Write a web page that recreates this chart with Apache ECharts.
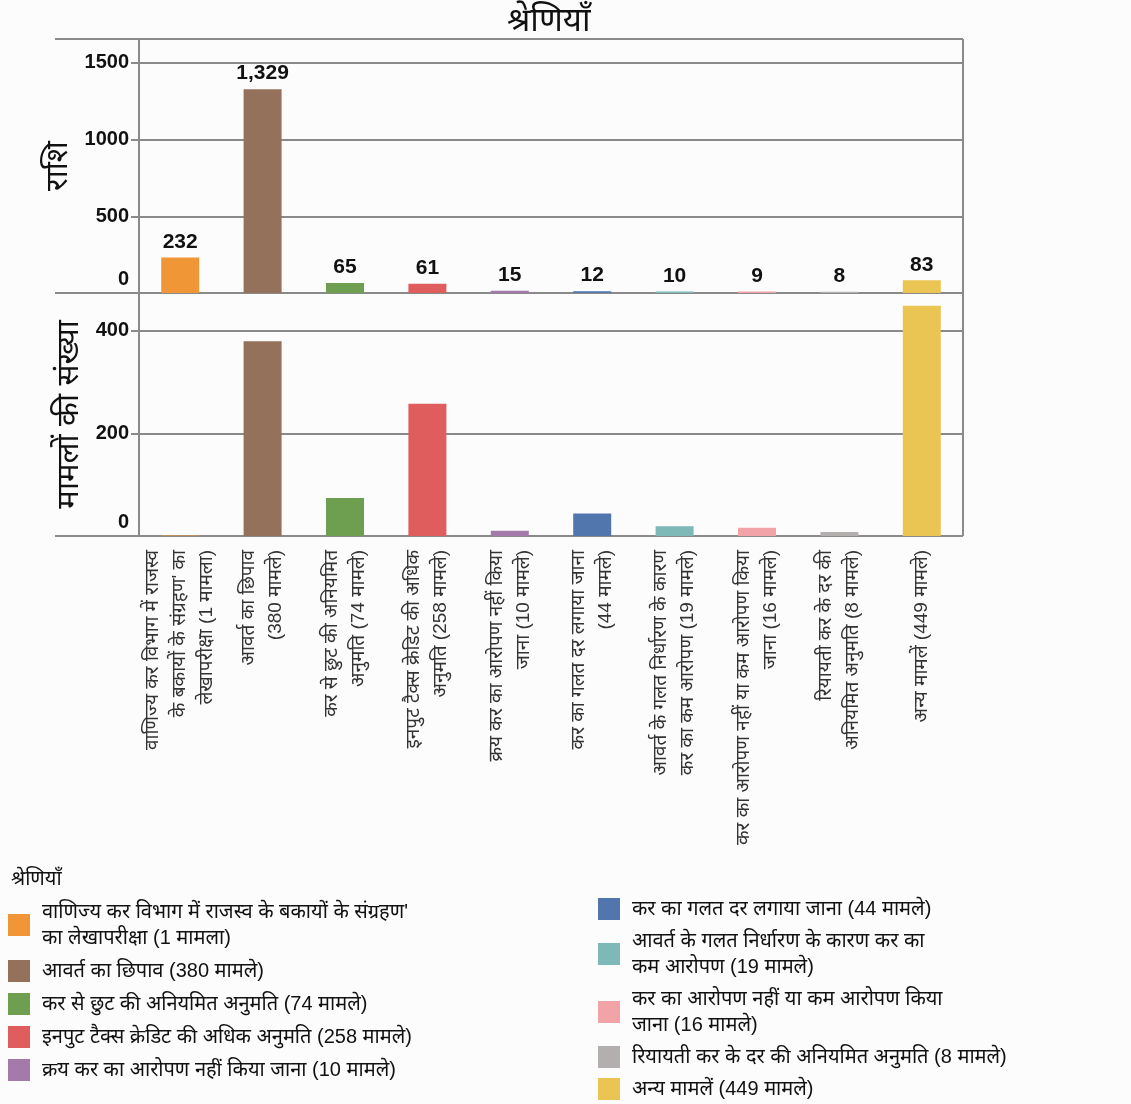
<!DOCTYPE html>
<html lang="hi">
<head>
<meta charset="UTF-8">
<script src="https://cdn.jsdelivr.net/npm/echarts@6/dist/echarts.min.js"></script>
<title>श्रेणियाँ</title>
</head>
<body style="margin:0;background:#fcfcfc;">
<div id="main" style="width:1131px;height:1104px;"></div>
<script>
// categories (legend order)
var categories = [
    'वाणिज्य कर विभाग में राजस्व के बकायों के संग्रहण\' का लेखापरीक्षा (1 मामला)',
    'आवर्त का छिपाव (380 मामले)',
    'कर से छुट की अनियमित अनुमति (74 मामले)',
    'इनपुट टैक्स क्रेडिट की अधिक अनुमति (258 मामले)',
    'क्रय कर का आरोपण नहीं किया जाना (10 मामले)',
    'कर का गलत दर लगाया जाना (44 मामले)',
    'आवर्त के गलत निर्धारण के कारण कर का कम आरोपण (19 मामले)',
    'कर का आरोपण नहीं या कम आरोपण किया जाना (16 मामले)',
    'रियायती कर के दर की अनियमित अनुमति (8 मामले)',
    'अन्य मामलें (449 मामले)'
];
// wrapped text for the rotated axis labels
var axisNames = [
    'वाणिज्य कर विभाग में राजस्व\nके बकायों के संग्रहण\' का\nलेखापरीक्षा (1 मामला)',
    'आवर्त का छिपाव\n(380 मामले)',
    'कर से छुट की अनियमित\nअनुमति (74 मामले)',
    'इनपुट टैक्स क्रेडिट की अधिक\nअनुमति (258 मामले)',
    'क्रय कर का आरोपण नहीं किया\nजाना (10 मामले)',
    'कर का गलत दर लगाया जाना\n(44 मामले)',
    'आवर्त के गलत निर्धारण के कारण\nकर का कम आरोपण (19 मामले)',
    'कर का आरोपण नहीं या कम आरोपण किया\nजाना (16 मामले)',
    'रियायती कर के दर की\nअनियमित अनुमति (8 मामले)',
    'अन्य मामलें (449 मामले)'
];
// wrapped text for the legend
var legendNames = [
    'वाणिज्य कर विभाग में राजस्व के बकायों के संग्रहण\'\nका लेखापरीक्षा (1 मामला)',
    'आवर्त का छिपाव (380 मामले)',
    'कर से छुट की अनियमित अनुमति (74 मामले)',
    'इनपुट टैक्स क्रेडिट की अधिक अनुमति (258 मामले)',
    'क्रय कर का आरोपण नहीं किया जाना (10 मामले)',
    'कर का गलत दर लगाया जाना (44 मामले)',
    'आवर्त के गलत निर्धारण के कारण कर का\nकम आरोपण (19 मामले)',
    'कर का आरोपण नहीं या कम आरोपण किया\nजाना (16 मामले)',
    'रियायती कर के दर की अनियमित अनुमति (8 मामले)',
    'अन्य मामलें (449 मामले)'
];
var amounts = [232, 1329, 65, 61, 15, 12, 10, 9, 8, 83];
var caseCounts = [1, 380, 74, 258, 10, 44, 19, 16, 8, 449];
var colors = ['#f09636', '#94715b', '#6e9e4f', '#e05d5d', '#a47aaa',
    '#5175ad', '#7eb9b7', '#f2a3a8', '#b3afaf', '#ebc553'];

var FONT = "'Liberation Sans', 'Noto Sans', sans-serif";
var LINE = '#8a8a8a';

// layout
var L = 139, R = 963, T1 = 39, B1 = 293, B2 = 536;

function only(arr, i) {
    return arr.map(function (v, j) { return j === i ? v : '-'; });
}

var series = [];
categories.forEach(function (name, i) {
    series.push({
        name: name, type: 'bar', xAxisIndex: 0, yAxisIndex: 0,
        barWidth: 38, barGap: '-100%',
        itemStyle: { color: colors[i] },
        label: {
            show: true, position: 'top', distance: 5,
            fontFamily: FONT, fontSize: 21, fontWeight: 'bold', color: '#111',
            formatter: function (p) { return p.value.toLocaleString('en-US'); }
        },
        data: only(amounts, i)
    });
    series.push({
        name: name, type: 'bar', xAxisIndex: 1, yAxisIndex: 1,
        barWidth: 38, barGap: '-100%',
        itemStyle: { color: colors[i] },
        data: only(caseCounts, i)
    });
});

function zeroUp(v) { return v === 0 ? '{z|0}' : v; }
var tickLabel = {
    fontFamily: FONT, fontSize: 20, fontWeight: 'bold', color: '#111', margin: 10,
    showMaxLabel: false, formatter: zeroUp,
    rich: { z: { fontFamily: FONT, fontSize: 20, fontWeight: 'bold', color: '#111', padding: [0, 0, 28, 0] } }
};
var nameStyle = { fontFamily: FONT, fontSize: 31, color: '#111' };
var legendText = { fontFamily: FONT, fontSize: 20, lineHeight: 26, color: '#111', padding: [0, 0, 0, 7] };

var myChart = echarts.init(document.getElementById('main'));
var option = {
    backgroundColor: '#fcfcfc',
    animation: false,
    title: [
        { text: 'श्रेणियाँ', left: 502, top: 0,
          textStyle: { fontFamily: FONT, fontSize: 33, fontWeight: 'normal', color: '#111' } },
        { text: 'श्रेणियाँ', left: 6, top: 864,
          textStyle: { fontFamily: FONT, fontSize: 20, fontWeight: 'normal', color: '#111' } }
    ],
    legend: [
        { data: categories.slice(0, 5), orient: 'vertical', left: 8, top: 899, padding: 0,
          icon: 'rect', itemWidth: 22, itemHeight: 22, itemGap: 7,
          formatter: function (n) { return legendNames[categories.indexOf(n)]; },
          textStyle: legendText },
        { data: categories.slice(5), orient: 'vertical', left: 598, top: 896, padding: 0,
          icon: 'rect', itemWidth: 22, itemHeight: 22, itemGap: 6,
          formatter: function (n) { return legendNames[categories.indexOf(n)]; },
          textStyle: legendText }
    ],
    grid: [
        { left: L, width: R - L, top: T1, height: B1 - T1 },
        { left: L, width: R - L, top: B1, height: B2 - B1 }
    ],
    xAxis: [
        { type: 'category', gridIndex: 0, data: categories,
          axisLine: { show: false }, axisTick: { show: false }, axisLabel: { show: false } },
        { type: 'category', gridIndex: 1, data: categories,
          axisLine: { show: false }, axisTick: { show: false },
          axisLabel: {
              rotate: 90, margin: 14, interval: 0,
              fontFamily: FONT, fontSize: 19, lineHeight: 27, color: '#333',
              padding: [0, 0, 16, 0],
              formatter: function (n) { return axisNames[categories.indexOf(n)]; }
          } }
    ],
    yAxis: [
        { type: 'value', gridIndex: 0, min: 0, max: 1656, interval: 500,
          name: 'राशि', nameLocation: 'middle', nameGap: 49, nameRotate: 90, nameTextStyle: nameStyle,
          axisLine: { show: true, lineStyle: { color: LINE, width: 2 } },
          axisTick: { show: true, length: 8, lineStyle: { color: LINE, width: 2 } },
          splitLine: { lineStyle: { color: LINE, width: 2 } },
          axisLabel: tickLabel },
        { type: 'value', gridIndex: 1, min: 0, max: 474, interval: 200,
          name: 'मामलों की संख्या', nameLocation: 'middle', nameGap: 50, nameRotate: 90, nameTextStyle: nameStyle,
          axisLine: { show: true, lineStyle: { color: LINE, width: 2 } },
          axisTick: { show: true, length: 8, lineStyle: { color: LINE, width: 2 } },
          splitLine: { lineStyle: { color: LINE, width: 2 } },
          axisLabel: tickLabel }
    ],
    // panel frame lines that run past the axis
    graphic: [
        { type: 'line', shape: { x1: 55, y1: T1, x2: R, y2: T1 }, style: { stroke: LINE, lineWidth: 2 } },
        { type: 'line', shape: { x1: 55, y1: B1, x2: R, y2: B1 }, style: { stroke: LINE, lineWidth: 2 } },
        { type: 'line', shape: { x1: 55, y1: B2, x2: R, y2: B2 }, style: { stroke: LINE, lineWidth: 2 } },
        { type: 'line', shape: { x1: R, y1: T1, x2: R, y2: B2 }, style: { stroke: LINE, lineWidth: 2 } }
    ],
    series: series
};
myChart.setOption(option);
</script>
</body>
</html>
